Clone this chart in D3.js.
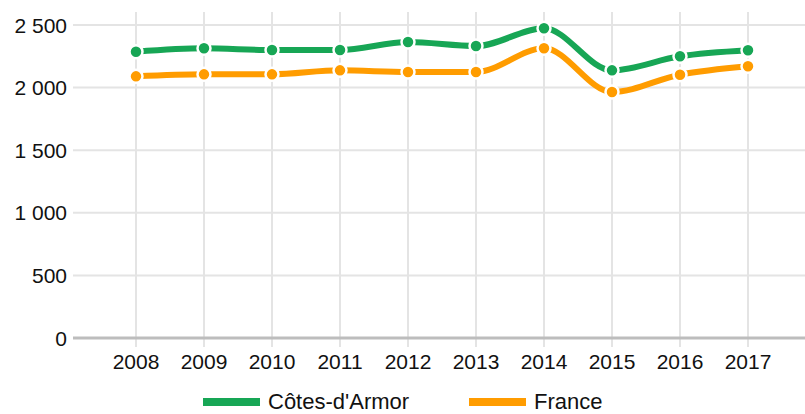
<!DOCTYPE html>
<html>
<head>
<meta charset="utf-8">
<script src="https://cdn.jsdelivr.net/npm/d3@7"></script>
<style>
  body { margin: 0; background: #fff; }
  svg { display: block; font-family: "Liberation Sans", Arial, sans-serif; }
</style>
</head>
<body>
<svg id="chart" width="805" height="414"></svg>
<script>
const years = ["2008", "2009", "2010", "2011", "2012", "2013", "2014", "2015", "2016", "2017"];
const cotesArmor = [2287, 2314, 2300, 2300, 2364, 2332, 2474, 2138, 2250, 2298];
const france = [2090, 2106, 2106, 2138, 2125, 2125, 2314, 1965, 2103, 2170];
const yTicks = [0, 500, 1000, 1500, 2000, 2500];
const seriesNames = ["Côtes-d'Armor", "France"];
const seriesColors = ["#17a655", "#ff9c00"];

const svg = d3.select("#chart");
const plotLeft = 73, plotRight = 805, plotTop = 12, plotBottom = 338;

const x = d3.scalePoint().domain(years).range([136, 748]);
const y = d3.scaleLinear().domain([0, 2604]).range([plotBottom, plotTop]);

// vertical grid
svg.append("g")
  .selectAll("line")
  .data(years)
  .enter().append("line")
    .attr("x1", d => x(d)).attr("x2", d => x(d))
    .attr("y1", plotTop).attr("y2", plotBottom + 9)
    .style("stroke", "#e4e4e4")
    .style("stroke-width", 2);

// horizontal grid
svg.append("g")
  .selectAll("line")
  .data(yTicks.filter(d => d > 0))
  .enter().append("line")
    .attr("x1", plotLeft).attr("x2", plotRight)
    .attr("y1", d => y(d)).attr("y2", d => y(d))
    .style("stroke", "#e4e4e4")
    .style("stroke-width", 2);

// zero line
svg.append("line")
  .attr("x1", plotLeft).attr("x2", plotRight)
  .attr("y1", y(0)).attr("y2", y(0))
  .style("stroke", "#bdbdbd")
  .style("stroke-width", 3);

const fmt = v => d3.format(",")(v).replace(/,/g, " ");

// y labels
svg.append("g")
  .selectAll("text")
  .data(yTicks)
  .enter().append("text")
    .attr("x", 67)
    .attr("y", d => y(d))
    .attr("dy", "0.36em")
    .attr("text-anchor", "end")
    .style("font-size", "21px")
    .style("fill", "#111")
    .text(fmt);

// x labels
svg.append("g")
  .selectAll("text")
  .data(years)
  .enter().append("text")
    .attr("x", d => x(d))
    .attr("y", 369)
    .attr("text-anchor", "middle")
    .style("font-size", "21px")
    .style("fill", "#111")
    .text(d => d);

const line = d3.line()
  .x((d, i) => x(years[i]))
  .y(d => y(d))
  .curve(d3.curveMonotoneX);

[cotesArmor, france].forEach(function (vals, k) {
  const g = svg.append("g");
  g.append("path")
    .attr("d", line(vals))
    .style("fill", "none")
    .style("stroke", seriesColors[k])
    .style("stroke-width", 6);
  g.selectAll("circle")
    .data(vals)
    .enter().append("circle")
      .attr("cx", (d, i) => x(years[i]))
      .attr("cy", d => y(d))
      .attr("r", 6.5)
      .style("fill", seriesColors[k])
      .style("stroke", "#fff")
      .style("stroke-width", 2.5);
});

// legend
const legendX = [203, 469];
const legend = svg.append("g");
seriesNames.forEach(function (name, k) {
  legend.append("rect")
    .attr("x", legendX[k]).attr("y", 398)
    .attr("width", 57).attr("height", 8)
    .style("fill", seriesColors[k]);
  legend.append("text")
    .attr("x", legendX[k] + 65)
    .attr("y", 409)
    .style("font-size", "22px")
    .style("fill", "#111")
    .text(name);
});
</script>
</body>
</html>
